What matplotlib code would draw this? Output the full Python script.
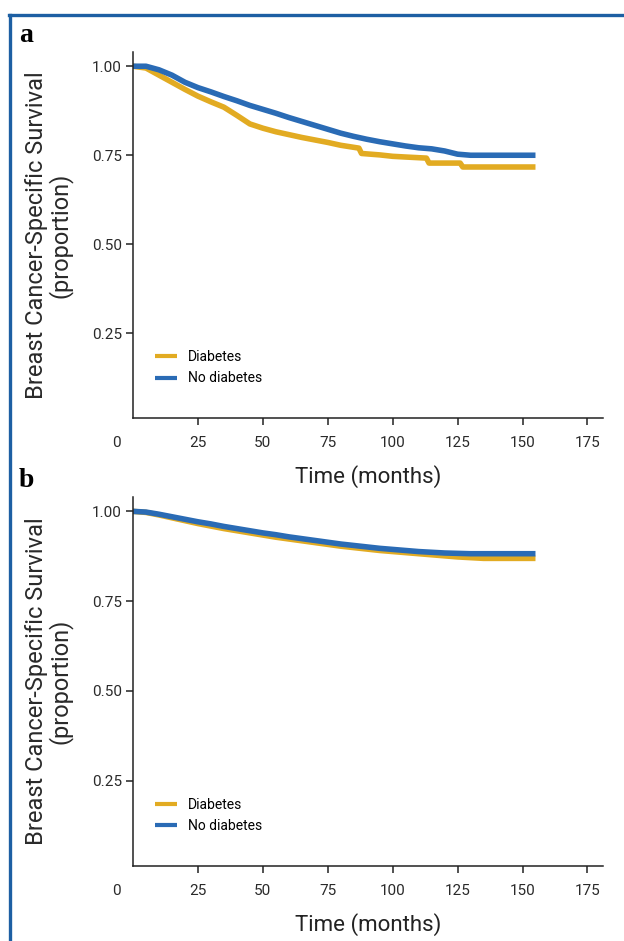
import numpy as np
import matplotlib
matplotlib.use("Agg")
import matplotlib.pyplot as plt
from matplotlib.lines import Line2D

plt.rcParams['font.family'] = ['Roboto', 'DejaVu Sans']

# panel a (Kaplan-Meier estimates)
a_months_d = [0, 5, 10, 15, 20, 25, 30, 35, 40, 45, 50, 55, 60, 65, 70, 75, 80, 87, 88,
              95, 100, 105, 113, 114, 120, 126, 127, 135, 145, 155]
a_diabetes = [1.0, 0.995, 0.975, 0.955, 0.935, 0.916, 0.9, 0.885, 0.862, 0.838, 0.826, 0.816,
              0.808, 0.8, 0.793, 0.786, 0.778, 0.77, 0.755, 0.751, 0.747, 0.745, 0.742,
              0.728, 0.728, 0.728, 0.717, 0.717, 0.717, 0.717]
a_months_nd = [0, 5, 10, 15, 20, 25, 30, 35, 40, 45, 50, 55, 60, 65, 70, 75, 80, 85, 90, 95,
               100, 105, 110, 115, 120, 125, 130, 135, 140, 145, 150, 155]
a_no_diabetes = [1.0, 1.0, 0.99, 0.975, 0.955, 0.94, 0.928, 0.915, 0.903, 0.89, 0.879, 0.868,
                 0.856, 0.845, 0.834, 0.823, 0.812, 0.803, 0.795, 0.788, 0.782, 0.776, 0.771,
                 0.768, 0.762, 0.753, 0.75, 0.75, 0.75, 0.75, 0.75, 0.75]

# panel b
b_months = [0, 5, 10, 15, 20, 25, 30, 35, 40, 45, 50, 55, 60, 65, 70, 75, 80, 85, 90, 95,
            100, 105, 110, 115, 120, 125, 130, 135, 140, 145, 150, 155]
b_diabetes = [1.0, 0.997, 0.99, 0.982, 0.974, 0.966, 0.959, 0.952, 0.946, 0.94, 0.934, 0.928,
              0.923, 0.918, 0.913, 0.908, 0.903, 0.899, 0.895, 0.891, 0.888, 0.885, 0.882,
              0.879, 0.876, 0.873, 0.871, 0.869, 0.869, 0.869, 0.869, 0.869]
b_no_diabetes = [1.0, 0.998, 0.992, 0.985, 0.978, 0.971, 0.965, 0.958, 0.952, 0.946, 0.94,
                 0.935, 0.929, 0.924, 0.919, 0.914, 0.909, 0.905, 0.901, 0.897, 0.894, 0.891,
                 0.888, 0.886, 0.884, 0.883, 0.882, 0.882, 0.882, 0.882, 0.882, 0.882]

xticks = [25, 50, 75, 100, 125, 150, 175]
yticks = [0.25, 0.50, 0.75, 1.00]
ytick_labels = ['0.25', '0.50', '0.75', '1.00']

yellow = '#e2ab22'
blue = '#2a6bb5'
border = '#1d5fa3'

fig = plt.figure(figsize=(6.24, 9.41), dpi=100)

# outer frame (top and left edges)
fig.add_artist(Line2D([0.0145, 1.0], [1 - 15 / 941, 1 - 15 / 941], color=border, lw=2.4))
fig.add_artist(Line2D([0.0155, 0.0155], [0.0, 1 - 15 / 941], color=border, lw=2.4))

ax_a = fig.add_axes([133 / 624, 1 - 418 / 941, 470 / 624, 366 / 941])
ax_b = fig.add_axes([133 / 624, 1 - 866 / 941, 470 / 624, 369 / 941])

panels = [(ax_a, a_months_d, a_diabetes, a_months_nd, a_no_diabetes, 'a'),
          (ax_b, b_months, b_diabetes, b_months, b_no_diabetes, 'b')]

for ax, td, d, tn, nd, letter in panels:
    ax.plot(td, d, color=yellow, lw=4, label='Diabetes', solid_capstyle='butt')
    ax.plot(tn, nd, color=blue, lw=4, label='No diabetes', solid_capstyle='butt')
    ax.set_xlim(0, 181)
    ax.set_ylim(0.012, 1.04)
    ax.set_xticks(xticks)
    ax.set_xticklabels([str(t) for t in xticks])
    ax.set_yticks(yticks)
    ax.set_yticklabels(ytick_labels)
    ax.spines['top'].set_visible(False)
    ax.spines['right'].set_visible(False)
    for s in ['left', 'bottom']:
        ax.spines[s].set_linewidth(1.1)
        ax.spines[s].set_color('#222222')
    ax.tick_params(axis='both', direction='out', length=5, width=1.1, color='#222222',
                   labelsize=11, labelcolor='#2a2a2a')
    ax.tick_params(axis='x', pad=8)
    ax.tick_params(axis='y', pad=3)
    ax.annotate('0', xy=(0, 0), xycoords='axes fraction', xytext=(-12, -13),
                textcoords='offset points', ha='center', va='top', fontsize=11,
                color='#2a2a2a')
    ax.set_xlabel('Time (months)', fontsize=16, color='#222222', labelpad=11)
    ax.set_ylabel('Breast Cancer-Specific Survival\n(proportion)', fontsize=17,
                  color='#2a2a2a', linespacing=1.0)
    ax.yaxis.set_label_coords(-0.128, 0.5)
    leg = ax.legend(loc='lower left', bbox_to_anchor=(0.02, 0.055), frameon=False,
                    fontsize=10, handlelength=1.6, handletextpad=0.8, labelspacing=0.55)
    for h in leg.get_lines():
        h.set_linewidth(3)
    ax.text(-0.243, 1.012, letter, transform=ax.transAxes, fontsize=20, fontweight='bold',
            family='Liberation Serif', ha='left', va='bottom')

fig.savefig('out.png', dpi=100)
